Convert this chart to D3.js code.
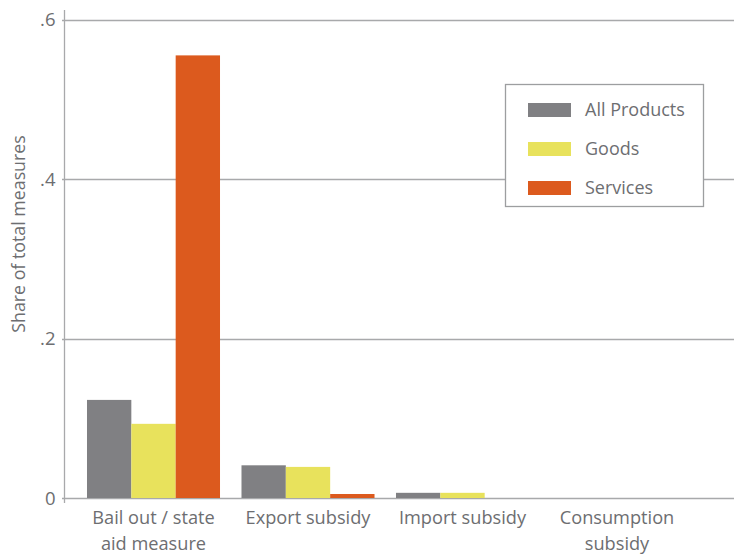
<!DOCTYPE html>
<html>
<head>
<meta charset="utf-8">
<script src="https://cdn.jsdelivr.net/npm/d3@7"></script>
<style>
  html, body { margin: 0; padding: 0; background: #fff; }
  svg { display: block; font-family: "Open Sans", sans-serif; }
</style>
</head>
<body>
<svg id="chart" width="734" height="559"></svg>
<script>
const categories = [["Bail out / state", "aid measure"], ["Export subsidy"], ["Import subsidy"], ["Consumption", "subsidy"]];
const categoryKeys = ["Bail out / state aid measure", "Export subsidy", "Import subsidy", "Consumption subsidy"];
const seriesNames = ["All Products", "Goods", "Services"];
const allProducts = [0.123, 0.041, 0.0065, 0];
const goods = [0.093, 0.039, 0.0065, 0];
const services = [0.555, 0.005, 0, 0];
const yTicks = [0, 0.2, 0.4, 0.6];
const yTickLabels = ["0", ".2", ".4", ".6"];
const colors = ["#808083", "#e8e25c", "#dc5a1e"];

const seriesValues = [allProducts, goods, services];
const svg = d3.select("#chart");
const textColor = "#6d6e71";
const gridColor = "#a8a9ab";

const axisX = 64.5;
const y = d3.scaleLinear().domain([0, 0.6]).range([498, 19.5]);
const x0 = d3.scaleBand().domain(categoryKeys).range([76.25, 694.25]).paddingInner(0.139).paddingOuter(0.0695);
const x1 = d3.scaleBand().domain(seriesNames).range([0, x0.bandwidth()]);

// gridlines
svg.append("g").selectAll("line").data(yTicks).join("line")
  .attr("x1", axisX - 2.5).attr("x2", 734)
  .attr("y1", d => Math.round(y(d)) + 0.5).attr("y2", d => Math.round(y(d)) + 0.5)
  .attr("stroke", gridColor).attr("stroke-width", 1.3);

// y axis line
svg.append("line").attr("x1", axisX).attr("x2", axisX).attr("y1", 10).attr("y2", 503)
  .attr("stroke", gridColor).attr("stroke-width", 1.3);

// y tick labels
svg.append("g").selectAll("text").data(yTicks).join("text")
  .attr("x", 55.5).attr("y", d => y(d)).attr("dy", "0.36em")
  .attr("text-anchor", "end").attr("fill", textColor).attr("font-size", 18.5)
  .text((d, i) => yTickLabels[i]);

// y title
svg.append("text").attr("transform", "translate(25,234) rotate(-90)")
  .attr("text-anchor", "middle").attr("fill", textColor).attr("font-size", 17.8)
  .text("Share of total measures");

// bars
const groups = svg.append("g").selectAll("g").data(categoryKeys).join("g")
  .attr("transform", d => `translate(${x0(d)},0)`);
groups.selectAll("rect").data((d, ci) => seriesNames.map((s, si) => ({s, v: seriesValues[si][ci], si})))
  .join("rect")
  .attr("x", d => x1(d.s)).attr("width", x1.bandwidth())
  .attr("y", d => y(d.v)).attr("height", d => y(0) - y(d.v))
  .attr("fill", d => colors[d.si]);

// x labels
svg.append("g").selectAll("text").data(categoryKeys).join("text")
  .attr("x", d => x0(d) + x0.bandwidth() / 2).attr("y", 523.5)
  .attr("text-anchor", "middle").attr("fill", textColor).attr("font-size", 18.2)
  .each(function(d, i) {
    const t = d3.select(this);
    categories[i].forEach((line, li) => {
      t.append("tspan").attr("x", x0(d) + x0.bandwidth() / 2).attr("dy", li === 0 ? 0 : 26).text(line);
    });
  });

// legend
const legend = svg.append("g");
legend.append("rect").attr("x", 505.5).attr("y", 84.5).attr("width", 198).attr("height", 122)
  .attr("fill", "#fff").attr("stroke", "#9d9ea0").attr("stroke-width", 1.3);
seriesNames.forEach((name, i) => {
  const cy = 110 + i * 39;
  legend.append("rect").attr("x", 528).attr("y", cy - 7).attr("width", 43).attr("height", 14).attr("fill", colors[i]);
  legend.append("text").attr("x", 585).attr("y", cy).attr("dy", "0.36em")
    .attr("fill", textColor).attr("font-size", 18).text(name);
});
</script>
</body>
</html>
